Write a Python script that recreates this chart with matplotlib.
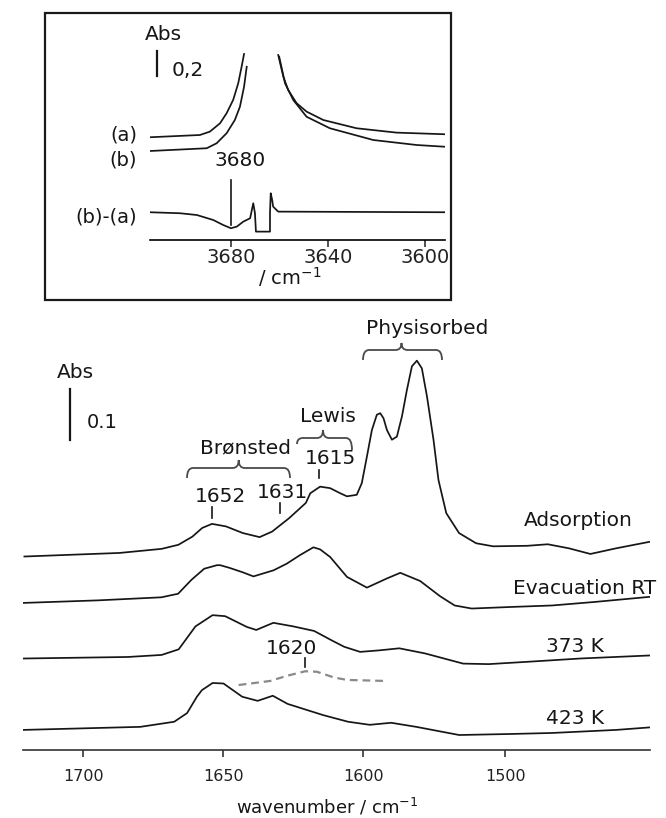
import numpy as np
import matplotlib
matplotlib.use("Agg")
import matplotlib.pyplot as plt
from matplotlib.transforms import Affine2D
from matplotlib.path import Path
from matplotlib.patches import PathPatch, Rectangle

# ---------------- data ----------------
# main panel: wavenumber (cm-1) and absorbance relative to each trace's left baseline
ads_wn = [1721, 1687, 1672, 1666, 1661, 1657.5, 1654, 1649, 1643, 1637, 1632.5, 1626.5,
          1620.5, 1618.9, 1615.4, 1611.8, 1608.2, 1605.8, 1602.3, 1600.5, 1597.4, 1593.9,
          1590.4, 1588, 1585.7, 1583.3, 1579.8, 1576.3, 1572.7, 1569.2, 1565.7, 1562.2,
          1558.7, 1555.1, 1550.5, 1547, 1541.5, 1532.5, 1520.5, 1508.5, 1484.5, 1470,
          1455, 1440, 1422, 1398]
ads_abs = [0.000, 0.007, 0.015, 0.023, 0.039, 0.056, 0.064, 0.059, 0.046, 0.038, 0.049, 0.075,
           0.105, 0.124, 0.137, 0.134, 0.124, 0.118, 0.121, 0.144, 0.196, 0.248,
           0.278, 0.281, 0.271, 0.248, 0.229, 0.235, 0.275, 0.327, 0.373, 0.384,
           0.369, 0.314, 0.229, 0.150, 0.085, 0.046, 0.026, 0.020, 0.021, 0.024,
           0.016, 0.005, 0.016, 0.029]

evac_wn = [1721.4, 1694.8, 1672.1, 1666.1, 1661.4, 1656.8, 1652.2, 1651.1, 1647.9, 1643,
           1639.2, 1632, 1627.3, 1622.5, 1617.8, 1615.4, 1611.8, 1605.8, 1597.4, 1583.3,
           1573.9, 1559.9, 1545.8, 1535.6, 1523.6, 1496.5, 1466.9, 1436.6, 1397.9]
evac_abs = [0.000, 0.005, 0.011, 0.018, 0.045, 0.067, 0.074, 0.074, 0.069, 0.060,
            0.052, 0.064, 0.077, 0.094, 0.109, 0.105, 0.090, 0.051, 0.030, 0.048,
            0.059, 0.043, 0.013, -0.005, -0.011, -0.008, -0.005, 0.002, 0.012]

k373_wn = [1721.4, 1684.1, 1672, 1665.9, 1659.9, 1653.8, 1649.3, 1641.6, 1638.2, 1632.1,
           1625, 1617.5, 1611.4, 1606.8, 1601.1, 1588.7, 1574.6, 1556.5, 1529.6, 1511.6,
           1481.7, 1447.2, 1397.9]
k373_abs = [0.000, 0.003, 0.007, 0.018, 0.063, 0.085, 0.083, 0.062, 0.056, 0.070,
            0.063, 0.054, 0.036, 0.023, 0.013, 0.016, 0.020, 0.010, -0.010, -0.011,
            -0.006, 0.000, 0.006]

k423_wn = [1721.4, 1679.6, 1667.5, 1662.9, 1659.4, 1657.6, 1653.8, 1649.9, 1643.2, 1637.7,
           1632.3, 1627, 1614.3, 1605.4, 1595.4, 1580.3, 1562.7, 1532.4, 1496.5, 1466.9,
           1421.8, 1397.9]
k423_abs = [0.000, 0.006, 0.016, 0.033, 0.065, 0.078, 0.092, 0.091, 0.065, 0.057,
            0.067, 0.051, 0.029, 0.016, 0.010, 0.014, 0.006, -0.010, -0.008, -0.006,
            0.000, 0.005]

lewis_wn = [1644.5, 1633.2, 1627.3, 1620.7, 1616.5, 1610.6, 1605.8, 1584.5]
lewis_abs = [0.000, 0.008, 0.018, 0.027, 0.026, 0.015, 0.010, 0.008]

main_labels = ["Adsorption", "Evacuation RT", "373 K", "423 K"]
main_ticks = [1700, 1650, 1600, 1500]

# inset: OH region
ins_a_wn = [3713.4, 3692.8, 3688.7, 3684.5, 3681.8, 3679.1, 3677, 3675.6, 3674.6, np.nan,
            3660.5, 3658.4, 3656.4, 3652.9, 3648.8, 3641.9, 3628.2, 3611.7, 3591.7]
ins_a_abs = [0.000, 0.018, 0.045, 0.112, 0.192, 0.298, 0.432, 0.565, 0.666, np.nan,
             0.658, 0.485, 0.378, 0.272, 0.205, 0.138, 0.072, 0.037, 0.024]
ins_b_wn = [3713.4, 3690, 3685.9, 3681.8, 3678.4, 3676.3, 3674.6, 3673.5, np.nan,
            3660.1, 3657.7, 3654.3, 3648.8, 3639.2, 3621.3, 3603.4, 3591.7]
ins_b_abs = [0.000, 0.022, 0.062, 0.142, 0.248, 0.354, 0.514, 0.674, np.nan,
             0.754, 0.542, 0.408, 0.274, 0.182, 0.088, 0.048, 0.034]
ins_d_wn = [3713.4, 3701, 3694.1, 3687.3, 3683.2, 3680, 3677.6, 3674.9, 3672.1, 3670.8,
            3670.1, 3669.7, 3663.9, 3663.9, 3663.6, 3663, 3662.6, 3660.5, 3591.7]
ins_d_abs = [0.000, -0.008, -0.022, -0.062, -0.102, -0.128, -0.115, -0.075, -0.048, 0.072,
             -0.008, -0.155, -0.155, -0.008, 0.152, 0.098, 0.045, 0.005, 0.000]
ins_labels = ["(a)", "(b)", "(b)-(a)"]
ins_ticks = [3680, 3640, 3600]

# ---------------- figure ----------------
W, H = 666, 818
fig = plt.figure(figsize=(W / 100, H / 100), dpi=100)
fig.patch.set_facecolor("white")
PX = Affine2D().scale(1 / W, -1 / H).translate(0, 1) + fig.transFigure
FONT = "DejaVu Sans"
INK = "#161616"


def fpos(x0, y0, x1, y1):
    return [x0 / W, 1 - y1 / H, (x1 - x0) / W, (y1 - y0) / H]


def ptext(x, y, s, size, ha="center", **kw):
    fig.text(x, y, s, transform=PX, ha=ha, va="center", fontsize=size,
             family=FONT, color=INK, **kw)


def pline(xs, ys, **kw):
    fig.add_artist(plt.Line2D(xs, ys, transform=PX, **kw))


def bracket(x0, x1, yh, yend0, yend1, xm, ytip, r=6):
    verts = [(x0, yend0), (x0, yh), (x0 + r, yh), (xm - r, yh), (xm, yh), (xm, ytip),
             (xm, yh), (xm + r, yh), (x1 - r, yh), (x1, yh), (x1, yend1)]
    codes = [Path.MOVETO, Path.CURVE3, Path.CURVE3, Path.LINETO, Path.CURVE3, Path.CURVE3,
             Path.CURVE3, Path.CURVE3, Path.LINETO, Path.CURVE3, Path.CURVE3]
    fig.add_artist(PathPatch(Path(verts, codes), transform=PX, fill=False,
                             edgecolor="#4a4a4a", lw=1.3))


# ---------- main panel ----------
ax = fig.add_axes(fpos(23, 320, 650, 750))
ax.set_facecolor("none")


def fwd(w):
    w = np.asarray(w, dtype=float)
    return np.where(w >= 1600, w, 1600 - (1600 - w) * 0.507)


def inv(u):
    u = np.asarray(u, dtype=float)
    return np.where(u >= 1600, u, 1600 - (1600 - u) / 0.507)


ax.set_xscale("function", functions=(fwd, inv))
ax.set_xlim(1721.5, 1398)
ax.set_ylim(10 / 510, 440 / 510)

offsets = [0.399, 0.308, 0.199, 0.059]
series = [(ads_wn, ads_abs), (evac_wn, evac_abs), (k373_wn, k373_abs), (k423_wn, k423_abs)]
for (wn, ab), off in zip(series, offsets):
    ax.plot(wn, np.array(ab) + off, color=INK, lw=1.25, solid_joinstyle="round")
ax.plot(lewis_wn, np.array(lewis_abs) + 0.147, color="#8a8a8a", lw=1.6,
        dashes=(3.5, 2.2))

for s in ["top", "left", "right"]:
    ax.spines[s].set_visible(False)
ax.spines["bottom"].set_linewidth(1.2)
ax.spines["bottom"].set_color("#333333")
ax.set_xticks(main_ticks)
ax.set_xticklabels([str(t) for t in main_ticks], family=FONT)
ax.set_yticks([])
ax.tick_params(axis="x", direction="out", length=5, width=1.1, labelsize=11.5,
               pad=9, colors="#222222")
ax.xaxis.set_minor_locator(matplotlib.ticker.NullLocator())

# scale bar 0.1 Abs
ax.plot([1704.6, 1704.6], [0.627, 0.727], color=INK, lw=1.6)
ptext(75, 372, "Abs", 14.5)
ptext(102, 422, "0.1", 14)

# annotations
ptext(427, 329, "Physisorbed", 14.5)
bracket(363, 442, 350, 360, 360, 401.5, 343)
ptext(328, 417, "Lewis", 14.5)
bracket(297, 352, 438, 444, 450, 323, 430)
ptext(246, 448, "Brønsted", 14.5)
bracket(187, 290, 468, 478, 478, 238.7, 460)
ptext(330, 458, "1615", 14.5)
pline([319, 319], [470, 478], color=INK, lw=1.2)
ptext(220, 497, "1652", 14.5)
pline([211.5, 211.5], [507, 518], color=INK, lw=1.2)
ptext(282, 493, "1631", 14.5)
pline([280, 280], [503, 513], color=INK, lw=1.2)
ptext(292, 648, "1620", 14.5)
pline([305, 305], [658, 667], color=INK, lw=1.2)

for lab, (x, y) in zip(main_labels, [(578, 520), (585, 588), (575, 647), (575, 718)]):
    ptext(x, y, lab, 14.5)

ptext(327, 807, "wavenumber / cm$^{-1}$", 13)

# ---------- inset ----------
fig.add_artist(Rectangle((45, 13), 406, 287, transform=PX, fill=False,
                         edgecolor="#1a1a1a", lw=1.6))
ax2 = fig.add_axes(fpos(150, 40, 445, 240))
ax2.set_facecolor("none")
ax2.set_xlim(3713.4, 3591.7)
ax2.set_ylim(0.08, 1.68)
ins_offsets = [0.902, 0.792, 0.302]
for (wn, ab), off in zip([(ins_a_wn, ins_a_abs), (ins_b_wn, ins_b_abs),
                          (ins_d_wn, ins_d_abs)], ins_offsets):
    ax2.plot(wn, np.array(ab) + off, color=INK, lw=1.25)
for s in ["top", "left", "right"]:
    ax2.spines[s].set_visible(False)
ax2.spines["bottom"].set_linewidth(1.2)
ax2.set_xticks(ins_ticks)
ax2.set_xticklabels([str(t) for t in ins_ticks], family=FONT)
ax2.set_yticks([])
ax2.tick_params(axis="x", direction="out", length=5, width=1.1, labelsize=14,
                pad=1, colors="#222222")
# 3680 marker and scale bar
ax2.plot([3680, 3680], [0.2, 0.56], color=INK, lw=1.2)
ax2.plot([3710.5, 3710.5], [1.392, 1.592], color=INK, lw=1.6)
ptext(163, 35, "Abs", 14.5)
ptext(188, 70, "0,2", 14.5)
ptext(240, 160, "3680", 14.5)
for lab, y in zip(ins_labels, [135, 160, 217]):
    ptext(137, y, lab, 14, ha="right")
ptext(290, 277, "/ cm$^{-1}$", 14)

fig.savefig("out.png", dpi=100, facecolor="white")
